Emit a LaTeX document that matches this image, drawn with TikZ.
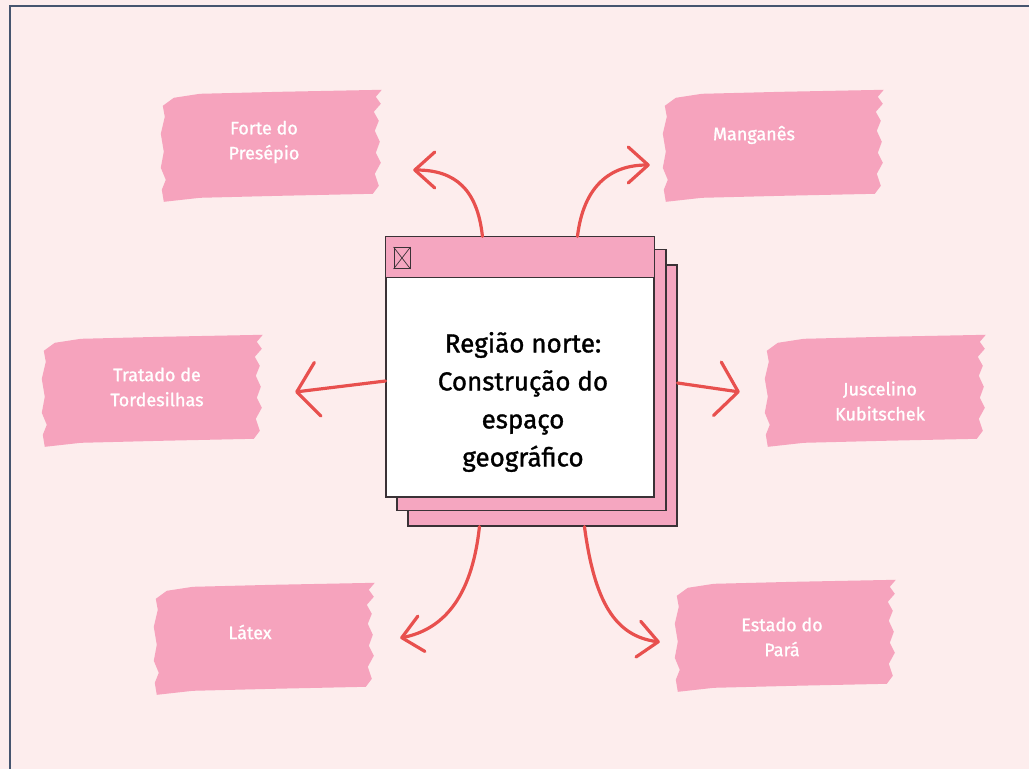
\documentclass[tikz,border=0pt]{standalone}
\usepackage{fontspec}
\setmainfont{Fira Sans}
\newfontfamily\hfont{Fira Sans}[FakeBold=1.2]
\usetikzlibrary{arrows.meta,calc}
\definecolor{bg}{HTML}{FDEDED}
\definecolor{boxpink}{HTML}{F6A3BD}
\definecolor{winpink}{HTML}{F5A6C0}
\definecolor{arrred}{HTML}{E8504E}
\definecolor{framecol}{HTML}{46556F}
\definecolor{edgecol}{HTML}{3A3236}
\newcommand{\brushshape}[1]{%
  \fill[boxpink, shift={(#1.north west)}]
   (14,8) -- (40,4) -- (120,2) -- (222,0) -- (216,7) -- (221,14) -- (214,22) -- (219,31)
   -- (215,41) -- (220,52) -- (216,63) -- (221,73) -- (215,84) -- (219,96) -- (213,104)
   -- (120,106) -- (40,108) -- (4,112) -- (2,100) -- (6,90) -- (1,78) -- (4,62) -- (1,44)
   -- (5,27) -- (3,16) -- cycle;}
\tikzset{
  box/.style={minimum width=222pt,minimum height=110pt,inner sep=0pt},
  boxtxt/.style={text=white,font=\hfont\fontsize{18}{25}\selectfont,align=center},
  page/.style={draw=edgecol,line width=1.1pt,minimum width=269pt,minimum height=261pt,inner sep=0pt},
  arr/.style={draw=arrred,line width=3.2pt,line cap=round,
    -{Straight Barb[length=20pt,width=36pt,round]}},
  arrw/.style={draw=arrred,line width=3.2pt,line cap=round,
    -{Straight Barb[length=21pt,width=54pt,round]}}
}
\begin{document}
\begin{tikzpicture}[x=1pt,y=-1pt]
\useasboundingbox (0,0) rectangle (1029,769);
\fill[bg] (0,0) rectangle (1029,769);
\draw[framecol,line width=2.2pt] (10,769) -- (10,6) -- (1029,6);

% boxes
\node[box] (fp) at (271,145) {};
\node[box] (mg) at (773,145) {};
\node[box] (tt) at (152,390) {};
\node[box] (jk) at (875,390) {};
\node[box] (lx) at (264,638) {};
\node[box] (ep) at (785,635) {};
\brushshape{fp}\brushshape{mg}\brushshape{tt}\brushshape{jk}\brushshape{lx}\brushshape{ep}
\node[boxtxt] at (264,142) {Forte do\\Presépio};
\node[boxtxt] at (754,135) {Manganês};
\node[boxtxt] at (157,387) {Tratado de\\Tordesilhas};
\node[boxtxt] at (880,401) {Juscelino\\Kubitschek};
\node[boxtxt] at (250,632) {Látex};
\node[boxtxt] at (782,637) {Estado do\\Pará};

% window pages
\node[page,fill=winpink] (p3) at (542.5,395.5) {};
\node[page,fill=winpink] (p2) at (531.5,380) {};
\node[page,fill=white,minimum width=268pt,minimum height=260pt] (win) at (520,367) {};
\fill[winpink] (win.north west) rectangle ($(win.north east)+(0,41)$);
\draw[edgecol,line width=1.1pt] ($(win.north west)+(0,41)$) -- ($(win.north east)+(0,41)$);
\draw[edgecol,line width=1.1pt] (win.north west) rectangle (win.south east);
\node[draw=edgecol,line width=0.9pt,minimum width=16pt,minimum height=21pt,inner sep=0pt] (ico) at (402,258) {};
\draw[edgecol,line width=0.7pt] (ico.north west) -- (ico.south east) (ico.north east) -- (ico.south west);
\node[font=\hfont\fontsize{26}{38}\selectfont,align=center,text=black] (title) at (523,402)
  {Região norte:\\Construção do\\espaço\\geográfico};

% connectors
\draw[arr] ($(win.north west)+(97,0)$) .. controls +(-5,-47) and +(42,0) .. ($(fp.east)+(31,25)$);
\draw[arr] ($(win.north west)+(192,0)$) .. controls +(6,-50) and +(-40,0) .. ($(mg.west)+(-12,20)$);
\draw[arrw] ($(win.west)+(0,14)$) -- ($(tt.east)+(32,2)$);
\draw[arrw] ($(p3.east)+(0,-12.5)$) -- ($(jk.west)+(-24,2)$);
\draw[arr] ($(p3.south west)+(72,0)$) .. controls +(-8,75) and +(40,-8) .. ($(lx.east)+(25,0)$);
\draw[arr] ($(p3.south west)+(177,0)$) .. controls +(10,75) and +(-45,-6) .. ($(ep.west)+(-14,7)$);
\end{tikzpicture}
\end{document}
